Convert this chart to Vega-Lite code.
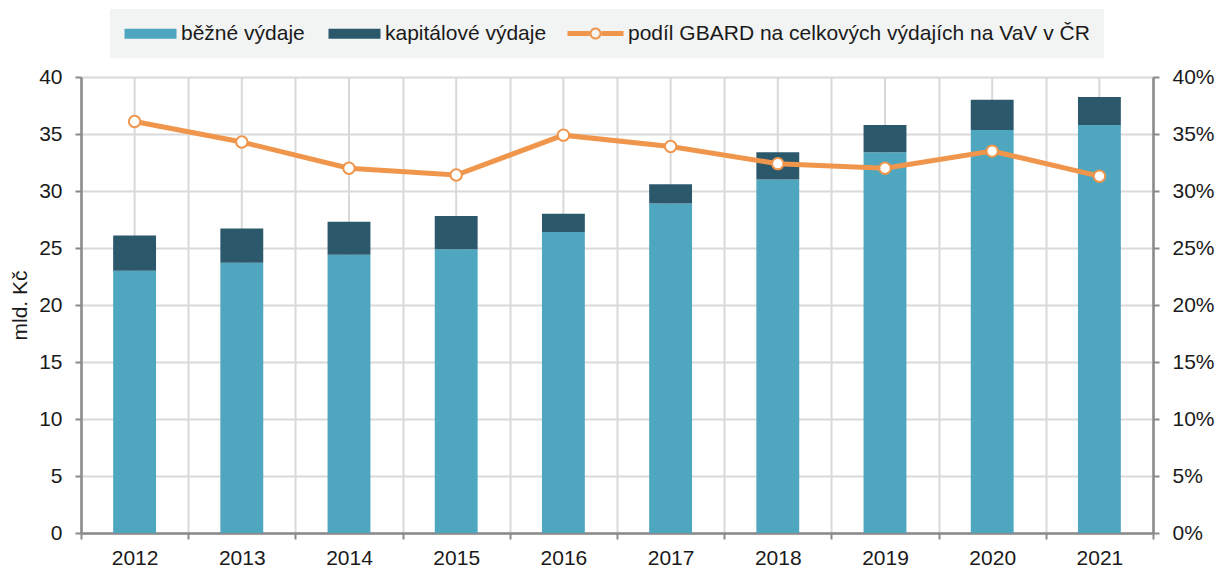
{
  "$schema": "https://vega.github.io/schema/vega-lite/v6.json",
  "width": 1072,
  "height": 456,
  "autosize": {"type": "none"},
  "padding": {"left": 81, "top": 77, "right": 63, "bottom": 34},
  "background": "white",
  "config": {
    "font": "Liberation Sans",
    "view": {"stroke": null},
    "axis": {
      "labelFont": "Liberation Sans",
      "titleFont": "Liberation Sans",
      "labelFontSize": 21,
      "titleFontSize": 21,
      "labelColor": "#1a1a1a",
      "titleColor": "#1a1a1a",
      "titleFontWeight": "normal",
      "domainColor": "#8a8a8a",
      "domainWidth": 2.5,
      "tickColor": "#8a8a8a",
      "tickWidth": 2,
      "tickSize": 6,
      "gridColor": "#d9d9d9",
      "gridWidth": 2
    },
    "legend": {
      "labelFont": "Liberation Sans",
      "labelFontSize": 21,
      "labelColor": "#1a1a1a",
      "labelLimit": 600
    }
  },
  "datasets": {
    "vydaje": [
      {"rok": "2012", "typ": "běžné výdaje", "poradi": 1, "hodnota": 23.0},
      {"rok": "2012", "typ": "kapitálové výdaje", "poradi": 2, "hodnota": 3.1},
      {"rok": "2013", "typ": "běžné výdaje", "poradi": 1, "hodnota": 23.7},
      {"rok": "2013", "typ": "kapitálové výdaje", "poradi": 2, "hodnota": 3.0},
      {"rok": "2014", "typ": "běžné výdaje", "poradi": 1, "hodnota": 24.4},
      {"rok": "2014", "typ": "kapitálové výdaje", "poradi": 2, "hodnota": 2.9},
      {"rok": "2015", "typ": "běžné výdaje", "poradi": 1, "hodnota": 24.9},
      {"rok": "2015", "typ": "kapitálové výdaje", "poradi": 2, "hodnota": 2.9},
      {"rok": "2016", "typ": "běžné výdaje", "poradi": 1, "hodnota": 26.4},
      {"rok": "2016", "typ": "kapitálové výdaje", "poradi": 2, "hodnota": 1.6},
      {"rok": "2017", "typ": "běžné výdaje", "poradi": 1, "hodnota": 28.9},
      {"rok": "2017", "typ": "kapitálové výdaje", "poradi": 2, "hodnota": 1.7},
      {"rok": "2018", "typ": "běžné výdaje", "poradi": 1, "hodnota": 31.0},
      {"rok": "2018", "typ": "kapitálové výdaje", "poradi": 2, "hodnota": 2.4},
      {"rok": "2019", "typ": "běžné výdaje", "poradi": 1, "hodnota": 33.4},
      {"rok": "2019", "typ": "kapitálové výdaje", "poradi": 2, "hodnota": 2.4},
      {"rok": "2020", "typ": "běžné výdaje", "poradi": 1, "hodnota": 35.35},
      {"rok": "2020", "typ": "kapitálové výdaje", "poradi": 2, "hodnota": 2.65},
      {"rok": "2021", "typ": "běžné výdaje", "poradi": 1, "hodnota": 35.8},
      {"rok": "2021", "typ": "kapitálové výdaje", "poradi": 2, "hodnota": 2.45}
    ],
    "podil": [
      {"rok": "2012", "podil": 0.361, "serie": "podíl GBARD na celkových výdajích na VaV v ČR"},
      {"rok": "2013", "podil": 0.343, "serie": "podíl GBARD na celkových výdajích na VaV v ČR"},
      {"rok": "2014", "podil": 0.320, "serie": "podíl GBARD na celkových výdajích na VaV v ČR"},
      {"rok": "2015", "podil": 0.314, "serie": "podíl GBARD na celkových výdajích na VaV v ČR"},
      {"rok": "2016", "podil": 0.349, "serie": "podíl GBARD na celkových výdajích na VaV v ČR"},
      {"rok": "2017", "podil": 0.339, "serie": "podíl GBARD na celkových výdajích na VaV v ČR"},
      {"rok": "2018", "podil": 0.324, "serie": "podíl GBARD na celkových výdajích na VaV v ČR"},
      {"rok": "2019", "podil": 0.320, "serie": "podíl GBARD na celkových výdajích na VaV v ČR"},
      {"rok": "2020", "podil": 0.335, "serie": "podíl GBARD na celkových výdajích na VaV v ČR"},
      {"rok": "2021", "podil": 0.313, "serie": "podíl GBARD na celkových výdajích na VaV v ČR"}
    ]
  },
  "encoding": {
    "x": {
      "field": "rok",
      "type": "ordinal",
      "scale": {"type": "band", "paddingInner": 0, "paddingOuter": 0},
      "axis": {
        "title": null,
        "labelAngle": 0,
        "tickBand": "extent",
        "grid": true,
        "labelPadding": 8
      }
    }
  },
  "layer": [
    {
      "data": {"name": "podil"},
      "mark": {"type": "rule", "color": "#d9d9d9", "strokeWidth": 2},
      "encoding": {
        "x": {"field": "rok", "type": "ordinal", "bandPosition": 0.5}
      }
    },
    {
      "data": {"name": "vydaje"},
      "mark": {"type": "bar", "width": {"band": 0.4}},
      "encoding": {
        "y": {
          "field": "hodnota",
          "type": "quantitative",
          "aggregate": "sum",
          "stack": "zero",
          "scale": {"domain": [0, 40], "nice": false},
          "axis": {
            "title": "mld. Kč",
            "values": [0, 5, 10, 15, 20, 25, 30, 35, 40],
            "grid": true,
            "labelPadding": 13,
            "titlePadding": 8
          }
        },
        "color": {
          "field": "typ",
          "type": "nominal",
          "scale": {
            "domain": ["běžné výdaje", "kapitálové výdaje"],
            "range": ["#4fa6bf", "#2c586b"]
          },
          "legend": {
            "title": null,
            "orient": "none",
            "legendX": 29,
            "legendY": -68,
            "direction": "horizontal",
            "fillColor": "#f2f3f3",
            "padding": 14,
            "symbolType": "M-1,-0.5H4.2V0.5H-1Z",
            "symbolSize": 400,
            "symbolStrokeWidth": 0,
            "labelOffset": 36,
            "columnPadding": 23
          }
        },
        "order": {"field": "poradi", "type": "quantitative"}
      }
    },
    {
      "data": {"name": "podil"},
      "mark": {
        "type": "line",
        "strokeWidth": 5,
        "point": {"filled": true, "fill": "white", "stroke": "#f0964c", "strokeWidth": 2, "size": 130}
      },
      "encoding": {
        "y": {
          "field": "podil",
          "type": "quantitative",
          "scale": {"domain": [0, 0.4], "nice": false},
          "axis": {
            "orient": "right",
            "title": null,
            "format": ".0%",
            "values": [0, 0.05, 0.1, 0.15, 0.2, 0.25, 0.3, 0.35, 0.4],
            "grid": false,
            "labelPadding": 13
          }
        },
        "stroke": {
          "field": "serie",
          "type": "nominal",
          "scale": {"range": ["#f0964c"]},
          "legend": {
            "title": null,
            "orient": "none",
            "legendX": 472,
            "legendY": -68,
            "fillColor": "#f2f3f3",
            "padding": 14,
            "symbolType": "M-1,-0.25H1.2V0.25H-1Z M2.4,-0.25H4.6V0.25H2.4Z M1.2,0A0.6,0.6 0 1,0 2.4,0A0.6,0.6 0 1,0 1.2,0Z M1.4,0A0.4,0.4 0 1,1 2.2,0A0.4,0.4 0 1,1 1.4,0Z",
            "symbolSize": 400,
            "labelOffset": 40,
            "encode": {
              "symbols": {
                "update": {
                  "fill": {"value": "#f0964c"},
                  "strokeWidth": {"value": 0}
                }
              }
            }
          }
        }
      }
    }
  ],
  "resolve": {"scale": {"y": "independent"}}
}
